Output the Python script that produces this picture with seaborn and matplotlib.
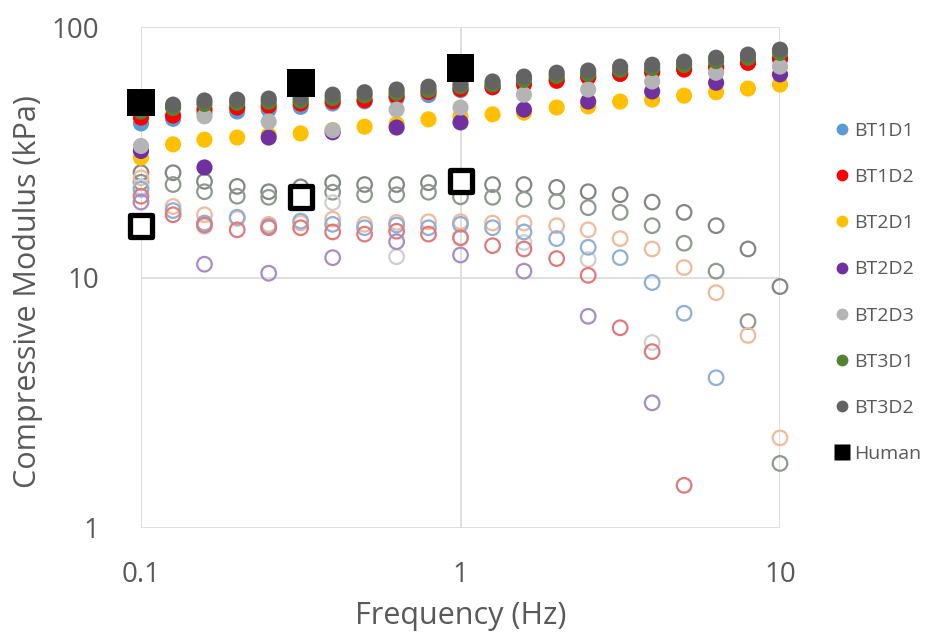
import numpy as np
import pandas as pd
import matplotlib
matplotlib.use("Agg")
import matplotlib.pyplot as plt
from matplotlib.lines import Line2D
import seaborn as sns

# ---------------- data ----------------
freq = [0.1, 0.126, 0.158, 0.2, 0.251, 0.316, 0.398, 0.501, 0.631, 0.794,
        1.0, 1.26, 1.58, 2.0, 2.51, 3.16, 3.98, 5.01, 6.31, 7.94, 10.0]
freq_sparse = [0.1, 0.158, 0.251, 0.398, 0.631, 1.0, 1.58, 2.51, 3.98, 6.31, 10.0]
freq_human = [0.1, 0.316, 1.0]

# storage (filled) moduli, kPa
bt1d1_f = [41.2, 43.0, 45.5, 46.0, 46.8, 48.0, 49.5, 50.5, 52.0, 53.5, 56.0,
           57.5, 60.0, 62.0, 63.5, 65.0, 66.5, 68.5, 70.0, 72.0, 74.0]
bt1d2_f = [43.5, 44.3, 47.0, 47.7, 48.5, 49.5, 50.5, 51.0, 53.0, 55.0, 56.5,
           57.5, 59.0, 61.0, 63.0, 65.0, 66.0, 67.6, 69.0, 72.0, 75.0]
bt2d1_f = [30.1, 34.0, 35.5, 36.2, 37.0, 37.6, 38.8, 40.0, 41.0, 42.8, 44.0,
           44.8, 45.5, 47.7, 48.2, 50.4, 51.3, 53.2, 54.9, 56.8, 58.9]
bt2d2_f = [32.0, 27.5, 36.2, 38.0, 39.7, 41.6, 46.8, 50.4, 55.3, 59.9, 64.7]
bt2d3_f = [33.5, 44.0, 41.9, 38.7, 46.8, 47.7, 53.7, 56.3, 60.6, 65.7, 69.5]
bt3d1_f = [46.0, 47.5, 49.3, 49.8, 50.3, 50.8, 52.0, 53.3, 54.6, 56.0, 58.0,
           59.0, 61.5, 63.7, 65.0, 67.4, 68.6, 70.5, 73.1, 75.3, 78.8]
bt3d2_f = [47.5, 49.0, 50.9, 51.3, 51.8, 52.3, 53.7, 54.9, 56.3, 57.8, 59.5,
           60.6, 63.4, 65.7, 67.0, 69.5, 70.7, 72.7, 75.4, 77.6, 81.2]
human_f = [50.0, 59.6, 68.8]

# loss (open) moduli, kPa
bt1d1_o = [22.5, 18.5, 16.5, 17.4, 16.0, 16.8, 16.3, 15.8, 16.2, 15.8, 16.3,
           15.8, 15.2, 14.3, 13.2, 12.0, 9.55, 7.2, 3.98, np.nan, np.nan]
bt1d2_o = [21.1, 17.8, 16.2, 15.5, 15.8, 15.8, 15.2, 14.9, 15.3, 14.9, 14.4,
           13.4, 13.0, 11.9, 10.2, 6.3, 5.06, 1.48, np.nan, np.nan, np.nan]
bt2d1_o = [25.0, 19.2, 17.8, 17.2, 16.3, 16.5, 17.1, 16.3, 16.6, 16.7, 16.7,
           16.5, 16.5, 16.1, 15.5, 14.3, 13.0, 10.96, 8.7, 5.87, 2.29]
bt2d2_o = [20.0, 11.3, 10.4, 12.0, 13.9, 12.3, 10.6, 7.0, 3.16, np.nan, np.nan]
bt2d3_o = [23.0, 16.0, 16.0, 19.9, 12.1, 14.5, 13.8, 11.8, 5.5, np.nan, np.nan]
bt3d1_o = [24.0, 23.5, 22.0, 21.1, 20.9, 21.0, 21.9, 21.4, 21.4, 21.9, 21.0,
           20.9, 20.5, 20.1, 19.0, 18.2, 16.1, 13.7, 10.6, 6.67, 1.81]
bt3d2_o = [26.2, 26.2, 24.2, 23.1, 22.0, 23.0, 23.9, 23.5, 23.5, 23.9, 23.5,
           23.5, 23.5, 22.9, 22.0, 21.4, 20.0, 18.2, 16.1, 13.0, 9.2]
human_o = [16.0, 20.9, 24.2]

labels = ["BT1D1", "BT1D2", "BT2D1", "BT2D2", "BT2D3", "BT3D1", "BT3D2", "Human"]

# ---------------- style ----------------
sns.set_theme(style="white")
plt.rcParams["font.family"] = ["Open Sans", "DejaVu Sans"]
TXT = "#595959"

fill_cols = {"BT1D1": "#5B9BD5", "BT1D2": "#FF0000", "BT2D1": "#FFC000",
             "BT2D2": "#7030A0", "BT2D3": "#B4B4B4", "BT3D1": "#548235",
             "BT3D2": "#636363"}
open_cols = {"BT1D1": "#8DB0DA", "BT1D2": "#E07A7A", "BT2D1": "#F2B99A",
             "BT2D2": "#A58DC6", "BT2D3": "#CFCFCF", "BT3D1": "#8F998F",
             "BT3D2": "#858585"}

fig = plt.figure(figsize=(9.25, 6.39), dpi=100)
ax = fig.add_axes([141 / 925, 1 - 528 / 639, (780 - 141) / 925, (528 - 27) / 639])
ax.set_xscale("log")
ax.set_yscale("log")

opens = [("BT3D2", freq, bt3d2_o), ("BT3D1", freq, bt3d1_o),
         ("BT2D3", freq_sparse, bt2d3_o), ("BT2D1", freq, bt2d1_o),
         ("BT1D1", freq, bt1d1_o), ("BT1D2", freq, bt1d2_o),
         ("BT2D2", freq_sparse, bt2d2_o)]
for name, fx, vals in opens:
    df = pd.DataFrame({"f": fx, "v": vals}).dropna()
    c = open_cols[name]
    sns.scatterplot(data=df, x="f", y="v", ax=ax, marker="o", s=110,
                    color=c, facecolor="none", edgecolor=c, linewidth=1.6,
                    legend=False, clip_on=False, zorder=3)

fills = [("BT1D1", freq, bt1d1_f), ("BT1D2", freq, bt1d2_f),
         ("BT2D1", freq, bt2d1_f), ("BT2D2", freq_sparse, bt2d2_f),
         ("BT2D3", freq_sparse, bt2d3_f), ("BT3D1", freq, bt3d1_f),
         ("BT3D2", freq, bt3d2_f)]
for name, fx, vals in fills:
    df = pd.DataFrame({"f": fx, "v": vals}).dropna()
    c = fill_cols[name]
    sns.scatterplot(data=df, x="f", y="v", ax=ax, marker="o", s=135,
                    color=c, edgecolor="none", linewidth=0,
                    legend=False, clip_on=False, zorder=4)

sns.scatterplot(x=freq_human, y=human_f, ax=ax, marker="s", s=400,
                color="black", edgecolor="none", linewidth=0,
                legend=False, clip_on=False, zorder=5)
sns.scatterplot(x=freq_human, y=human_o, ax=ax, marker="s", s=240,
                color="black", facecolor="white", edgecolor="black",
                linewidth=3.8, legend=False, clip_on=False, zorder=5)

ax.set_xlim(0.1, 10)
ax.set_ylim(1, 100)
ax.set_xticks([0.1, 1, 10])
ax.set_xticklabels(["0.1", "1", "10"])
ax.set_yticks([1, 10, 100])
ax.set_yticklabels(["1", "10", "100"])
ax.minorticks_off()
ax.grid(True, which="major", color="#D9D9D9", linewidth=1.2)
ax.set_axisbelow(True)
for sp in ax.spines.values():
    sp.set_visible(False)
ax.tick_params(axis="both", length=0, labelsize=20, labelcolor=TXT)
ax.tick_params(axis="x", pad=24)
ax.tick_params(axis="y", pad=30)

ax.set_xlabel("Frequency (Hz)", fontsize=22, color=TXT)
ax.set_ylabel("Compressive Modulus (kPa)", fontsize=22, color=TXT)
ax.xaxis.label.set_verticalalignment("center")
ax.yaxis.label.set_verticalalignment("center")
ax.xaxis.set_label_coords(0.5, (528 - 616) / 501)
ax.yaxis.set_label_coords((28 - 141) / 639, (528 - 292) / 501)

handles = []
for name in labels[:-1]:
    handles.append(Line2D([], [], linestyle="none", marker="o", markersize=8.5,
                          markerfacecolor=fill_cols[name], markeredgecolor="none"))
handles.append(Line2D([], [], linestyle="none", marker="s", markersize=11,
                      markerfacecolor="black", markeredgecolor="none"))
leg = fig.legend(handles, labels, loc="upper left",
                 bbox_to_anchor=(826 / 925, 1 - 114 / 639), frameon=False,
                 fontsize=14, labelspacing=1.45, handlelength=0.8,
                 handletextpad=0.25, borderaxespad=0)
for t in leg.get_texts():
    t.set_color(TXT)

fig.savefig("out.png", dpi=100)
